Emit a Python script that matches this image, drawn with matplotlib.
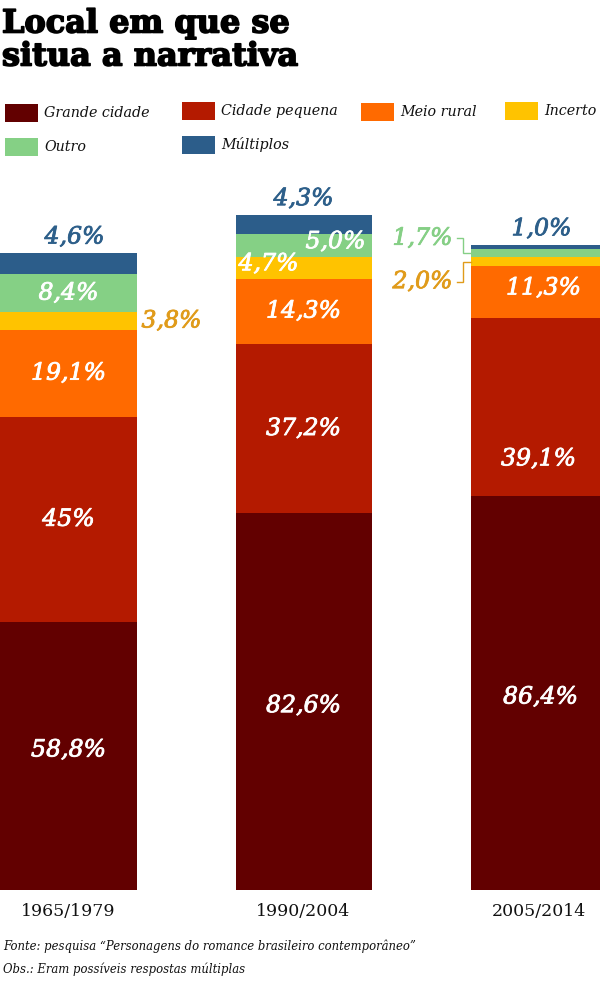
import matplotlib
matplotlib.use("Agg")
import matplotlib.pyplot as plt
from matplotlib.patches import Rectangle
from matplotlib.lines import Line2D
import matplotlib.patheffects as pe

periods = ["1965/1979", "1990/2004", "2005/2014"]
categories = ["Grande cidade", "Cidade pequena", "Meio rural", "Incerto", "Outro", "Múltiplos"]
grande_cidade = [58.8, 82.6, 86.4]
cidade_pequena = [45.0, 37.2, 39.1]
meio_rural = [19.1, 14.3, 11.3]
incerto = [3.8, 4.7, 2.0]
outro = [8.4, 5.0, 1.7]
multiplos = [4.6, 4.3, 1.0]
series = [grande_cidade, cidade_pequena, meio_rural, incerto, outro, multiplos]

colors = ["#620000", "#b41a00", "#ff6a00", "#ffc300", "#85d085", "#2c5d8a"]
BLUE_TXT = "#2d5f8a"
GOLD_TXT = "#e09b1a"
GREEN_TXT = "#85cf85"

W, H = 600, 981
fig = plt.figure(figsize=(W / 100, H / 100), dpi=100)
fig.patch.set_facecolor("white")

SERIF = ["DejaVu Serif"]

def fx(px):
    return px / W

def fy(py):
    return 1 - py / H

PPU = 4.56          # pixels per percentage unit
SPACING = 235.0     # pixels between bar centers
X0 = 68.5           # first bar center in px
ax_top, ax_bot = 170, 890
ax = fig.add_axes([0, fy(ax_bot), 1, (ax_bot - ax_top) / H])
ax.set_xlim(-X0 / SPACING, (W - X0) / SPACING)
ax.set_ylim(0, (ax_bot - ax_top) / PPU)
ax.axis("off")

bar_w = 136 / SPACING
xs = list(range(len(periods)))
bottoms = [0.0] * len(periods)
seg_bottoms = []
for vals, c in zip(series, colors):
    ax.bar(xs, vals, width=bar_w, bottom=bottoms, color=c, linewidth=0)
    seg_bottoms.append(list(bottoms))
    bottoms = [b + v for b, v in zip(bottoms, vals)]

def fmt(v):
    s = f"{v:.1f}".replace(".", ",")
    if s.endswith(",0") and v >= 10:
        s = s[:-2]
    return s + "%"

dx_px = 1 / SPACING
dy_px = 1 / PPU

label_style = {
    (0, 0): (0, -6, "white", "in"), (0, 1): (0, 0, "white", "in"), (0, 2): (0, 0, "white", "in"),
    (0, 3): (35, 0, GOLD_TXT, "right"), (0, 4): (0, 0, "white", "in"), (0, 5): (6, 0, BLUE_TXT, "top"),
    (1, 0): (0, 4, "white", "in"), (1, 1): (0, 0, "white", "in"), (1, 2): (0, 0, "white", "in"),
    (1, 3): (-35, -4, "white", "in"), (1, 4): (32, -4, "white", "in"), (1, 5): (0, 0, BLUE_TXT, "top"),
    (2, 0): (2, 4, "white", "in"), (2, 1): (0, 52, "white", "in"), (2, 2): (5, -4, "white", "in"),
    (2, 3): (0, 20, GOLD_TXT, "left"), (2, 4): (0, -15, GREEN_TXT, "left"), (2, 5): (3, 0, BLUE_TXT, "top"),
}

def heavy(col, w=0.6):
    return [pe.withStroke(linewidth=w, foreground=col)]

LBL = dict(family=SERIF, style="italic", fontsize=17)
for si, vals in enumerate(series):
    for bi, v in enumerate(vals):
        dxp, dyp, col, mode = label_style[(bi, si)]
        mid = seg_bottoms[si][bi] + v / 2
        if mode == "in":
            ax.text(xs[bi] + dxp * dx_px, mid - dyp * dy_px, fmt(v), color=col,
                    ha="center", va="center", path_effects=heavy(col), **LBL)
        elif mode == "top":
            ax.text(xs[bi] + dxp * dx_px, bottoms[bi] + 16 * dy_px, fmt(v), color=col,
                    ha="center", va="center", path_effects=heavy(col), **LBL)
        elif mode == "right":
            ax.text(xs[bi] + bar_w / 2 + dxp * dx_px, mid - dyp * dy_px, fmt(v), color=col,
                    ha="center", va="center", path_effects=heavy(col), **LBL)
        elif mode == "left":
            left = xs[bi] - bar_w / 2
            ty = mid - dyp * dy_px
            ax.text(left - 48 * dx_px, ty, fmt(v), color=col,
                    ha="center", va="center", path_effects=heavy(col), **LBL)
            bx1 = left - 14 * dx_px
            bx2 = left - 8 * dx_px
            ax.add_line(Line2D([bx1, bx2, bx2, left], [ty, ty, mid, mid],
                               color=col, linewidth=1.0, solid_joinstyle="miter"))

for bi, p in enumerate(periods):
    ax.text(xs[bi], -22 * dy_px, p, family=SERIF, fontsize=12.5, color="#111111",
            ha="center", va="center", clip_on=False)

fig.text(fx(2), fy(24), "Local em que se", family=SERIF, fontweight="bold",
         fontsize=23, color="black", va="center", ha="left", path_effects=heavy("black", 1.2))
fig.text(fx(2), fy(57), "situa a narrativa", family=SERIF, fontweight="bold",
         fontsize=23, color="black", va="center", ha="left", path_effects=heavy("black", 1.2))

leg_items = [
    (0, 5, 113), (1, 182, 111), (2, 361, 112), (3, 505, 111),
    (4, 5, 147), (5, 182, 145),
]
for ci, lx, ly in leg_items:
    fig.patches.append(Rectangle((fx(lx), fy(ly + 9)), 33 / W, 18 / H,
                                 transform=fig.transFigure, color=colors[ci], linewidth=0))
    fig.text(fx(lx + 39), fy(ly), categories[ci], family=SERIF, style="italic",
             fontsize=10.3, color="#111111", va="center", ha="left")

fig.text(fx(3), fy(946), "Fonte: pesquisa “Personagens do romance brasileiro contemporâneo”",
         family=SERIF, style="italic", fontsize=8.4, color="#111111", va="center", ha="left")
fig.text(fx(3), fy(969), "Obs.: Eram possíveis respostas múltiplas",
         family=SERIF, style="italic", fontsize=8.4, color="#111111", va="center", ha="left")

fig.savefig("out.png", dpi=100)
